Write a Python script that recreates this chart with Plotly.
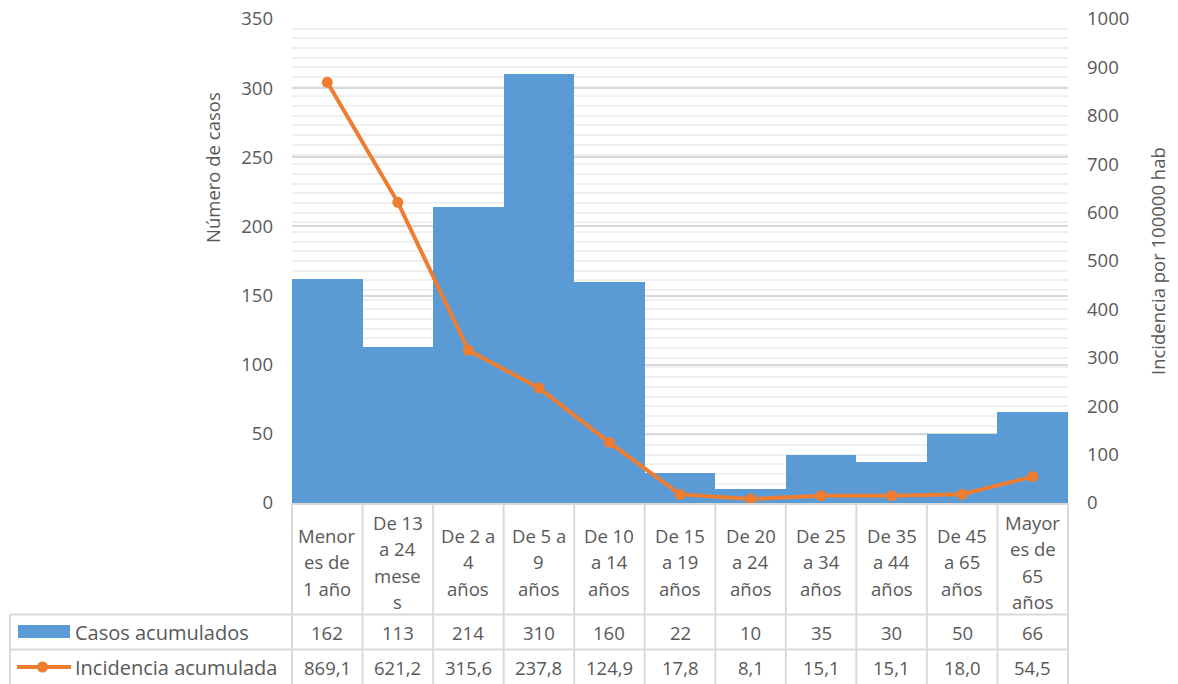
import plotly.graph_objects as go

# Grupos de edad (etiquetas tal como aparecen en la tabla de datos)
grupos = [
    "Menor<br>es de<br>1 año",
    "De 13<br>a 24<br>mese<br>s",
    "De 2 a<br>4<br>años",
    "De 5 a<br>9<br>años",
    "De 10<br>a 14<br>años",
    "De 15<br>a 19<br>años",
    "De 20<br>a 24<br>años",
    "De 25<br>a 34<br>años",
    "De 35<br>a 44<br>años",
    "De 45<br>a 65<br>años",
    "Mayor<br>es de<br>65<br>años",
]
casos = [162, 113, 214, 310, 160, 22, 10, 35, 30, 50, 66]
incidencia = [869.1, 621.2, 315.6, 237.8, 124.9, 17.8, 8.1, 15.1, 15.1, 18.0, 54.5]

serie_casos = "Casos acumulados"
serie_inc = "Incidencia acumulada"
titulo_izq = "Número de casos"
titulo_der = "Incidencia por 100000 hab"

AZUL = "#5B9BD5"
NARANJA = "#ED7D31"
GRIS_TXT = "#595959"
GRIS_BORDE = "#D9D9D9"
FUENTE = "Open Sans"
TAM = 18.5

W, H = 1178, 684
L, R, T, B = 292, 1068, 19, 503  # área de trazado en píxeles
n = len(grupos)


def px_x(px):
    return (px - L) / (R - L)


def px_y(py):
    return (B - py) / (B - T)


fig = go.Figure()
fig.add_trace(go.Bar(
    x=list(range(n)), y=casos, name=serie_casos,
    marker=dict(color=AZUL, line=dict(width=0)), yaxis="y",
))
fig.add_trace(go.Scatter(
    x=list(range(n)), y=incidencia, name=serie_inc, yaxis="y2",
    mode="lines+markers",
    line=dict(color=NARANJA, width=4),
    marker=dict(color=NARANJA, size=11),
))

shapes = []
annots = []

# Filas de la tabla (límites en píxeles)
fila1_fin = 614.5
fila2_fin = 649.5
fondo = 690

# Líneas verticales de la tabla en los límites de cada categoría
for i in range(n + 1):
    xp = i / n
    shapes.append(dict(type="line", xref="paper", yref="paper",
                       x0=xp, x1=xp, y0=px_y(B), y1=px_y(fondo),
                       line=dict(color=GRIS_BORDE, width=2)))
# Borde izquierdo de las filas de series
shapes.append(dict(type="line", xref="paper", yref="paper",
                   x0=px_x(10), x1=px_x(10), y0=px_y(fila1_fin), y1=px_y(fondo),
                   line=dict(color=GRIS_BORDE, width=2)))
# Líneas horizontales
shapes.append(dict(type="line", xref="paper", yref="paper",
                   x0=0, x1=1, y0=px_y(B + 1), y1=px_y(B + 1),
                   line=dict(color=GRIS_BORDE, width=2)))
for yy in (fila1_fin, fila2_fin):
    shapes.append(dict(type="line", xref="paper", yref="paper",
                       x0=px_x(10), x1=1, y0=px_y(yy), y1=px_y(yy),
                       line=dict(color=GRIS_BORDE, width=2)))

# Claves de leyenda dentro de la tabla
shapes.append(dict(type="rect", xref="paper", yref="paper",
                   x0=px_x(18), x1=px_x(70), y0=px_y(625), y1=px_y(638),
                   fillcolor=AZUL, line=dict(width=0)))
shapes.append(dict(type="line", xref="paper", yref="paper",
                   x0=px_x(17), x1=px_x(71), y0=px_y(667), y1=px_y(667),
                   line=dict(color=NARANJA, width=4)))
shapes.append(dict(type="circle", xref="paper", yref="paper",
                   x0=px_x(37), x1=px_x(48), y0=px_y(661.5), y1=px_y(672.5),
                   fillcolor=NARANJA, line=dict(width=0)))

fnt = dict(family=FUENTE, size=TAM, color=GRIS_TXT)
fnt_serie = dict(family=FUENTE, size=20, color=GRIS_TXT)
centro1 = (B + fila1_fin) / 2 + 3
c2 = px_y((fila1_fin + fila2_fin) / 2)
c3 = px_y(fila2_fin + 17.5)
interlinea = 26.5

for i in range(n):
    lineas = grupos[i].split("<br>")
    y_ini = centro1 - interlinea * (len(lineas) - 1) / 2
    for k, txt in enumerate(lineas):
        annots.append(dict(x=i, y=px_y(y_ini + k * interlinea), xref="x", yref="paper",
                           text=txt, showarrow=False, font=fnt,
                           xanchor="center", yanchor="middle"))
    annots.append(dict(x=i, y=c2, xref="x", yref="paper", text=str(casos[i]),
                       showarrow=False, font=fnt, xanchor="center", yanchor="middle"))
    annots.append(dict(x=i, y=c3, xref="x", yref="paper",
                       text=f"{incidencia[i]:.1f}".replace(".", ","),
                       showarrow=False, font=fnt, xanchor="center", yanchor="middle"))

annots.append(dict(x=px_x(73), y=c2, xref="paper", yref="paper", text=serie_casos,
                   showarrow=False, font=fnt_serie, xanchor="left", yanchor="middle"))
annots.append(dict(x=px_x(73), y=c3, xref="paper", yref="paper", text=serie_inc,
                   showarrow=False, font=fnt_serie, xanchor="left", yanchor="middle"))

# Títulos de los ejes
annots.append(dict(x=px_x(212), y=px_y(168), xref="paper", yref="paper",
                   text=titulo_izq, textangle=-90, showarrow=False, font=fnt,
                   xanchor="center", yanchor="middle"))
annots.append(dict(x=px_x(1157), y=px_y(261), xref="paper", yref="paper",
                   text=titulo_der, textangle=-90, showarrow=False, font=fnt,
                   xanchor="center", yanchor="middle"))

fig.update_layout(
    width=W, height=H,
    margin=dict(l=L, r=W - R, t=T, b=H - B, pad=0, autoexpand=False),
    paper_bgcolor="white", plot_bgcolor="white",
    showlegend=False,
    bargap=0,
    font=fnt,
    xaxis=dict(range=[-0.5, n - 0.5], showticklabels=False, showgrid=False,
               zeroline=False, showline=False, ticks="", automargin=False),
    yaxis=dict(range=[0, 350], dtick=50, showgrid=True, gridcolor=GRIS_BORDE,
               gridwidth=1.5, zeroline=False, showline=False, ticks="",
               ticklabelstandoff=18, tickfont=fnt, automargin=False),
    yaxis2=dict(range=[0, 1000], dtick=100, overlaying="y", side="right",
                showgrid=True, gridcolor="#F0F0F0", gridwidth=1.5,
                minor=dict(dtick=20, showgrid=True, gridcolor="#F0F0F0", gridwidth=1.5),
                zeroline=False, showline=False, ticks="",
                ticklabelstandoff=18, tickfont=fnt, automargin=False),
    shapes=shapes,
    annotations=annots,
)

fig.write_html("out.html")
